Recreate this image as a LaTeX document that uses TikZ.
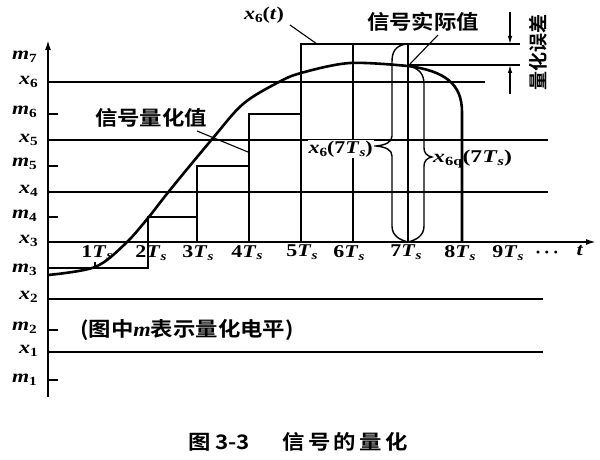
\documentclass[tikz,border=0pt]{standalone}
\usepackage{fontspec}
\usepackage{graphicx}
\setmainfont{Liberation Serif}
\newfontfamily\cjk{Noto Sans CJK SC}[BoldFont={* Bold}]
\newfontfamily\latinf{Liberation Serif}
\usetikzlibrary{arrows.meta}
\newcommand\vsub[1]{\raisebox{-0.35ex}{\fontsize{12.5}{12.5}\selectfont #1}}
\newcommand\wide[1]{\scalebox{1.22}[1]{#1}}
\newcommand\ml[2]{\wide{\textit{#1}\vsub{#2}}}
\newcommand\tsl[1]{\wide{#1\textit{T}\vsub{\textit{s}}}}
\newcommand\cwide[1]{\scalebox{1.12}[1]{#1}}
\tikzset{
  axisln/.style={line width=1.8pt},
  lev/.style={line width=1.5pt},
  stair/.style={line width=1.1pt},
  sig/.style={line width=2.6pt},
  thickv/.style={line width=2.2pt},
  brc/.style={line width=1.4pt},
  lead/.style={line width=1.1pt},
  lab/.style={font=\fontsize{18}{20}\selectfont\bfseries, inner sep=1pt},
  ylab/.style={lab, anchor=east},
  tlab/.style={lab, anchor=north},
  cn/.style={font=\cjk\bfseries\fontsize{20}{22}\selectfont, inner sep=1pt},
  arr/.style={line width=1.1pt, -{Latex[length=8pt,width=4.5pt]}}
}
\begin{document}
\begin{tikzpicture}[x=1pt,y=-1pt]
\useasboundingbox (0,0) rectangle (600,460);
% axes
\coordinate (o) at (48,242);
\coordinate (ybot) at (48,397);
\coordinate (ytop) at (48,40);
\coordinate (tend) at (596,242);
\draw[axisln,-{Latex[length=10pt,width=6pt]}] (ybot) -- (ytop);
\draw[axisln,-{Latex[length=10pt,width=6pt]}] (o) -- (tend);
% x levels
\draw[lev] (48,82) -- (485,82);
\draw[lev] (48,140) -- (548,140);
\draw[lev] (48,192) -- (548,192);
\draw[lev] (48,299) -- (543,299);
\draw[lev] (48,352) -- (543,352);
% m ticks
\foreach \yy in {114,166,217,330,380} \draw[stair] (48,\yy) -- (58,\yy);
% y labels
\node[ylab] (lm7) at (38,57) {\ml{m}{7}};
\node[ylab] (lx6) at (39,82) {\ml{x}{6}};
\node[ylab] (lm6) at (38,112) {\ml{m}{6}};
\node[ylab] (lx5) at (39,140) {\ml{x}{5}};
\node[ylab] (lm5) at (38,164) {\ml{m}{5}};
\node[ylab] (lx4) at (39,191) {\ml{x}{4}};
\node[ylab] (lm4) at (38,216) {\ml{m}{4}};
\node[ylab] (lx3) at (39,241) {\ml{x}{3}};
\node[ylab] (lm3) at (38,270) {\ml{m}{3}};
\node[ylab] (lx2) at (39,297) {\ml{x}{2}};
\node[ylab] (lm2) at (38,328) {\ml{m}{2}};
\node[ylab] (lx1) at (39,351) {\ml{x}{1}};
\node[ylab] (lm1) at (38,380) {\ml{m}{1}};
% staircase
\draw[stair] (48,268) -- (148,268) -- (148,242);
\draw[stair] (95,262) -- (95,268);
\draw[stair] (148,242) -- (148,217) -- (197,217);
\draw[stair] (197,242) -- (197,166) -- (249,166);
\draw[stair] (249,242) -- (249,114) -- (301,114);
\draw[stair] (301,242) -- (301,44) -- (520,44);
\draw[stair] (353,242) -- (353,44);
% actual value line
\draw[stair] (408,65) -- (520,65);
% 7Ts
\draw[thickv] (408,242) -- (408,44);
% signal curve (ends as the 8Ts line)
\draw[sig] plot[smooth, tension=0.55] coordinates {(48,275) (95,267) (125,244) (148,218) (170,190) (213,138) (243,104) (277,83) (301,73) (350,63) (408,66)}
  .. controls (445,71) and (462,84) .. (462,112) -- (462,242);
% braces
\draw[brc] (406,44) .. controls (395,46) and (392,52) .. (392,62) -- (392,136)
  .. controls (392,142) and (386,145) .. (376,146) .. controls (386,147) and (392,150) .. (392,156)
  -- (392,226) .. controls (392,236) and (400,240) .. (408,242);
\draw[brc] (408,66) .. controls (419,68) and (424,74) .. (424,84) -- (424,148)
  .. controls (424,153) and (427,156) .. (432,157) .. controls (427,158) and (424,161) .. (424,166)
  -- (424,226) .. controls (424,236) and (416,240) .. (408,242);
% brace labels
\node[lab, fill=white, anchor=east] (b1) at (374,149) {\wide{\textit{x}\vsub{6}(7\textit{T}\vsub{\textit{s}})}};
\node[lab, anchor=west] (b2) at (432,159) {\scalebox{1.32}[1]{\textit{x}\vsub{6q}(7\textit{T}\vsub{\textit{s}})}};
% time labels
\node[tlab] (t1) at (97,244) {\tsl{1}};
\node[tlab] (t2) at (151,244) {\tsl{2}};
\node[tlab] (t3) at (198,244) {\tsl{3}};
\node[tlab] (t4) at (247,244) {\tsl{4}};
\node[tlab] (t5) at (302,244) {\tsl{5}};
\node[tlab] (t6) at (349,244) {\tsl{6}};
\node[tlab] (t7) at (406,244) {\tsl{7}};
\node[tlab] (t8) at (460,244) {\tsl{8}};
\node[tlab] (t9) at (508,244) {\tsl{9}};
\node[lab, anchor=base] (tdots) at (547,258) {·\,·\,·};
\node[tlab] (tt) at (580,244) {\wide{\textit{t}}};
% x6(t) label
\node[lab] (x6t) at (264,15) {\wide{\textit{x}\vsub{6}(\textit{t})}};
\coordinate (x6ta) at (290,25);
\coordinate (x6tb) at (317,44);
\draw[lead] (x6ta) -- (x6tb);
% quantized value label
\node[cn] (qv) at (151,118) {\cwide{信号量化值}};
\coordinate (qva) at (197,131);
\coordinate (qvb) at (248,152);
\draw[lead] (qva) -- (qvb);
% actual value label
\node[cn] (av) at (423,22) {\cwide{信号实际值}};
\coordinate (ava) at (438,35);
\coordinate (avb) at (410,64);
\draw[lead] (ava) -- (avb);
% quantization error
\coordinate (e1) at (510,12);
\coordinate (e1b) at (510,44);
\coordinate (e2) at (510,94);
\coordinate (e2b) at (510,65);
\draw[arr] (e1) -- (e1b);
\draw[arr] (e2) -- (e2b);
\node[cn, rotate=90, font=\cjk\bfseries\fontsize{19}{20}\selectfont] (qe) at (538,52) {量化误差};
% note
\node[cn, anchor=west] (note) at (79,330) {\cwide{(图中{\latinf\bfseries\itshape m}表示量化电平)}};
% caption
\node[cn, anchor=west] (cap) at (187,442) {\scalebox{1.12}[1]{图\hspace{4pt}3-3\hspace{29pt}信\hspace{3pt}号\hspace{3pt}的\hspace{3pt}量\hspace{3pt}化}};
\end{tikzpicture}
\end{document}
